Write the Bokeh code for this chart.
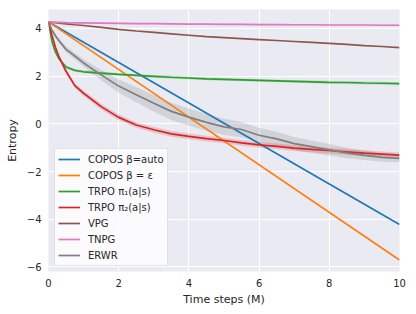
from bokeh.plotting import figure
from bokeh.models import Legend, LegendItem, FixedTicker, Range1d
from bokeh.embed import file_html
from bokeh.resources import INLINE

# ---- data ----
x = [0, 0.1, 0.2, 0.3, 0.5, 0.75, 1.0, 1.5, 2.0, 2.5, 3.0, 3.5, 4.0, 4.5, 5.0,
     5.5, 6.0, 6.5, 7.0, 7.5, 8.0, 8.5, 9.0, 9.5, 10.0]

copos_auto_x = [0, 10]
copos_auto = [4.27, -4.22]
copos_eps_x = [0, 10]
copos_eps = [4.27, -5.71]

trpo1 = [4.27, 3.45, 3.0, 2.72, 2.38, 2.24, 2.18, 2.12, 2.07, 2.03, 1.99, 1.95, 1.92,
         1.88, 1.86, 1.84, 1.82, 1.80, 1.78, 1.76, 1.74, 1.73, 1.71, 1.70, 1.68]
trpo1_sd = [0.0, 0.05, 0.06, 0.06, 0.06, 0.06, 0.06, 0.06, 0.06, 0.06, 0.06, 0.06, 0.06,
            0.06, 0.06, 0.06, 0.06, 0.06, 0.06, 0.06, 0.06, 0.06, 0.06, 0.06, 0.06]

trpo2 = [4.27, 3.70, 3.20, 2.80, 2.20, 1.60, 1.28, 0.72, 0.27, -0.05, -0.25, -0.42, -0.53,
         -0.62, -0.70, -0.80, -0.88, -0.95, -1.02, -1.07, -1.12, -1.18, -1.23, -1.27, -1.31]
trpo2_sd = [0.0, 0.05, 0.08, 0.09, 0.1, 0.1, 0.11, 0.12, 0.12, 0.12, 0.12, 0.12, 0.12,
            0.12, 0.12, 0.12, 0.12, 0.12, 0.12, 0.12, 0.12, 0.12, 0.12, 0.11, 0.11]

vpg = [4.27, 4.25, 4.24, 4.22, 4.19, 4.15, 4.12, 4.04, 3.96, 3.89, 3.83, 3.77, 3.71,
       3.65, 3.61, 3.57, 3.53, 3.49, 3.45, 3.41, 3.37, 3.33, 3.28, 3.24, 3.19]

tnpg = [4.27, 4.26, 4.25, 4.25, 4.24, 4.23, 4.23, 4.22, 4.21, 4.20, 4.20, 4.19, 4.18,
        4.18, 4.17, 4.17, 4.16, 4.16, 4.15, 4.15, 4.14, 4.14, 4.14, 4.13, 4.13]
tnpg_sd = [0.0, 0.03, 0.03, 0.03, 0.03, 0.03, 0.03, 0.03, 0.03, 0.03, 0.03, 0.03, 0.03,
           0.03, 0.03, 0.03, 0.03, 0.03, 0.03, 0.03, 0.03, 0.03, 0.03, 0.03, 0.03]

erwr = [4.27, 3.92, 3.68, 3.48, 3.12, 2.84, 2.55, 2.05, 1.58, 1.22, 0.86, 0.52, 0.28,
        0.06, -0.13, -0.24, -0.48, -0.63, -0.83, -0.96, -1.09, -1.22, -1.32, -1.41, -1.45]
erwr_sd = [0.0, 0.05, 0.08, 0.1, 0.12, 0.14, 0.16, 0.22, 0.28, 0.32, 0.35, 0.36, 0.36,
           0.35, 0.34, 0.32, 0.30, 0.30, 0.28, 0.26, 0.24, 0.22, 0.2, 0.18, 0.16]

labels = ["COPOS β=auto", "COPOS β = ε", "TRPO π₁(a|s)", "TRPO π₂(a|s)", "VPG", "TNPG", "ERWR"]
colors = ["#1f77b4", "#ff7f0e", "#2ca02c", "#d62728", "#8c564b", "#e377c2", "#7f7f7f"]

x_ticks = [0, 2, 4, 6, 8, 10]
y_ticks = [-6, -4, -2, 0, 2, 4]

# ---- figure ----
p = figure(width=412, height=310, output_backend="svg", toolbar_location=None,
           x_range=Range1d(0, 10), y_range=Range1d(-6.19, 4.79),
           min_border_left=48, min_border_right=13, min_border_top=9, min_border_bottom=39)
p.background_fill_color = "#EAEAF2"
p.border_fill_color = "white"
p.outline_line_color = None

for g in (p.xgrid, p.ygrid):
    g.grid_line_color = "white"
    g.grid_line_width = 1.1
p.xgrid.ticker = FixedTicker(ticks=x_ticks)
p.ygrid.ticker = FixedTicker(ticks=y_ticks)

for ax in (p.xaxis, p.yaxis):
    ax.axis_line_color = None
    ax.major_tick_line_color = None
    ax.minor_tick_line_color = None
    ax.major_tick_out = 0
    ax.major_tick_in = 0
    ax.minor_tick_out = 0
    ax.minor_tick_in = 0
    ax.major_label_text_font = "DejaVu Sans"
    ax.major_label_text_font_size = "10px"
    ax.major_label_text_color = "#262626"
    ax.axis_label_text_font = "DejaVu Sans"
    ax.axis_label_text_font_size = "11px"
    ax.axis_label_text_font_style = "normal"
    ax.axis_label_text_color = "#262626"
    ax.major_label_standoff = 7

p.xaxis.ticker = FixedTicker(ticks=x_ticks)
p.yaxis.ticker = FixedTicker(ticks=y_ticks)
p.yaxis.major_label_overrides = {t: (str(t).replace("-", "\u2212")) for t in y_ticks}
p.xaxis.axis_label = "Time steps (M)"
p.yaxis.axis_label = "Entropy"
p.xaxis.axis_label_standoff = 3
p.yaxis.axis_label_standoff = 5

def band(mean, sd, color, alpha=0.2):
    lo = [m - s for m, s in zip(mean, sd)]
    hi = [m + s for m, s in zip(mean, sd)]
    p.varea(x=x, y1=lo, y2=hi, fill_color=color, fill_alpha=alpha)

band(tnpg, tnpg_sd, colors[5])
band(trpo1, trpo1_sd, colors[2])
band(erwr, erwr_sd, colors[6], 0.22)
band(trpo2, trpo2_sd, colors[3])

lw = 1.7
r_auto = p.line(copos_auto_x, copos_auto, line_color=colors[0], line_width=lw)
r_eps = p.line(copos_eps_x, copos_eps, line_color=colors[1], line_width=lw)
r_t1 = p.line(x, trpo1, line_color=colors[2], line_width=lw)
r_t2 = p.line(x, trpo2, line_color=colors[3], line_width=lw)
r_vpg = p.line(x, vpg, line_color=colors[4], line_width=lw)
r_tnpg = p.line(x, tnpg, line_color=colors[5], line_width=lw)
r_erwr = p.line(x, erwr, line_color=colors[6], line_width=lw)

rends = [r_auto, r_eps, r_t1, r_t2, r_vpg, r_tnpg, r_erwr]
legend = Legend(items=[LegendItem(label=l, renderers=[r]) for l, r in zip(labels, rends)],
                location=(6, 5), orientation="vertical")
legend.label_text_font = "DejaVu Sans"
legend.label_text_font_size = "10px"
legend.label_text_color = "#262626"
legend.glyph_width = 22
legend.glyph_height = 14
legend.label_height = 14
legend.label_standoff = 8
legend.spacing = 2
legend.padding = 3
legend.margin = 0
legend.background_fill_color = "white"
legend.background_fill_alpha = 0.8
legend.border_line_color = "#dcdcdc"
legend.border_line_alpha = 0.8
p.add_layout(legend, "center")

open("out.html", "w").write(file_html(p, INLINE))
